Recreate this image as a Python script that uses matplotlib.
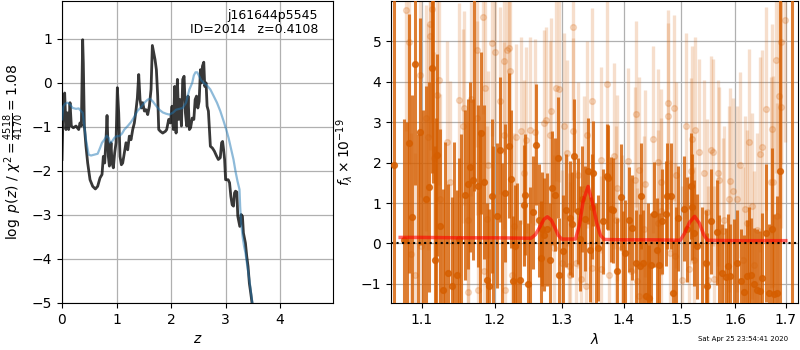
import matplotlib
matplotlib.use("Agg")
import matplotlib.pyplot as plt
from matplotlib.ticker import FixedLocator, FixedFormatter, NullLocator

# ---------------- left panel: log p(z) ----------------
pz_z = [0.000, 0.024, 0.049, 0.073, 0.098, 0.122, 0.147, 0.171, 0.208, 0.257, 0.306, 0.330,
        0.355, 0.379, 0.391, 0.410, 0.440, 0.471, 0.514, 0.563, 0.612, 0.654, 0.697, 0.734,
        0.758, 0.783, 0.807, 0.826, 0.850, 0.869, 0.899, 0.917, 0.942, 0.966, 0.991, 1.015,
        1.040, 1.064, 1.089, 1.113, 1.144, 1.174, 1.205, 1.235, 1.266, 1.297, 1.327, 1.358,
        1.382, 1.407, 1.431, 1.456, 1.480, 1.511, 1.541, 1.572, 1.602, 1.633, 1.657, 1.682,
        1.706, 1.731, 1.755, 1.774, 1.804, 1.847, 1.896, 1.920, 1.957, 1.988, 2.018, 2.043,
        2.067, 2.092, 2.116, 2.141, 2.165, 2.190, 2.214, 2.239, 2.263, 2.287, 2.312, 2.336,
        2.358, 2.388, 2.418, 2.442, 2.467, 2.491, 2.515, 2.539, 2.558, 2.576, 2.600, 2.618,
        2.642, 2.661, 2.685, 2.703, 2.721, 2.758, 2.794, 2.830, 2.867, 2.903, 2.927, 2.945,
        2.964, 2.982, 3.000, 3.024, 3.048, 3.073, 3.097, 3.121, 3.145, 3.164, 3.182, 3.206,
        3.224, 3.242, 3.261, 3.285, 3.309, 3.327, 3.345, 3.364, 3.388, 3.412, 3.436, 3.461,
        3.485, 3.550]
pz_logp = [-1.74, -0.45, -0.23, -1.06, -0.68, -1.06, -0.45, -0.98, -1.02, -0.98, -1.06, -0.91,
           -0.98, 0.98, 0.45, -0.98, -1.44, -1.82, -2.20, -2.35, -2.41, -2.35, -2.16, -2.08,
           -1.67, -1.82, -1.29, -0.74, -1.67, -1.89, -1.36, -1.82, -1.93, -1.59, -1.36, -0.11,
           -0.68, -1.67, -1.86, -1.82, -1.59, -1.36, -1.52, -1.21, -1.29, -1.06, -0.91, -0.61,
           -0.34, 0.19, -0.38, -0.57, -0.45, -0.64, -0.61, -0.72, -0.53, -0.15, 0.85, 0.68,
           0.53, 0.30, -0.30, -1.06, -1.10, -1.14, -1.10, -1.06, -0.83, -0.91, -0.53, -1.06,
           -0.08, -1.14, 0.08, -0.83, -0.38, -0.98, 0.08, 0.15, -0.68, -0.98, -0.30, -1.06,
           -1.02, -0.80, -0.83, -0.38, -0.30, -0.57, -0.42, 0.30, 0.00, 0.38, 0.47, -0.08,
           0.00, -0.53, -0.64, -1.06, -1.44, -1.48, -1.55, -1.65, -1.74, -1.70, -1.36, -1.33,
           -1.52, -1.74, -2.20, -2.20, -2.20, -2.27, -2.58, -2.77, -2.80, -2.50, -2.46, -2.48,
           -3.03, -3.14, -3.26, -2.99, -3.03, -3.41, -3.52, -3.64, -3.94, -4.17, -4.55, -4.77,
           -5.00, -5.60]

prior_z = [0.000, 0.024, 0.061, 0.104, 0.147, 0.196, 0.257, 0.306, 0.349, 0.379, 0.410, 0.440,
           0.489, 0.532, 0.593, 0.654, 0.697, 0.734, 0.777, 0.820, 0.856, 0.881, 0.917, 0.960,
           1.003, 1.052, 1.101, 1.144, 1.205, 1.266, 1.327, 1.382, 1.450, 1.511, 1.572, 1.615,
           1.664, 1.725, 1.786, 1.847, 1.908, 1.969, 2.031, 2.092, 2.153, 2.214, 2.275, 2.336,
           2.388, 2.418, 2.448, 2.479, 2.509, 2.552, 2.600, 2.661, 2.721, 2.782, 2.842, 2.903,
           2.964, 3.012, 3.055, 3.097, 3.145, 3.182, 3.218, 3.255, 3.267, 3.285, 3.315, 3.339,
           3.364, 3.400, 3.436, 3.479, 3.509]
prior_logp = [-0.83, -0.53, -0.47, -0.45, -0.49, -0.57, -0.59, -0.58, -0.64, -0.68, -0.98, -1.29,
              -1.63, -1.65, -1.63, -1.61, -1.48, -1.36, -1.29, -1.20, -1.25, -1.36, -1.33, -1.25,
              -1.21, -1.21, -1.15, -1.06, -0.98, -0.89, -0.77, -0.64, -0.55, -0.45, -0.38, -0.36,
              -0.42, -0.52, -0.61, -0.67, -0.70, -0.72, -0.68, -0.61, -0.59, -0.57, -0.45, -0.15,
              0.00, 0.17, 0.24, 0.24, 0.17, 0.06, 0.00, -0.06, -0.15, -0.30, -0.45, -0.64,
              -0.87, -1.06, -1.25, -1.48, -1.74, -2.01, -2.23, -2.42, -2.80, -3.18, -3.52, -3.71,
              -3.86, -4.17, -4.47, -4.89, -5.15]

# ---------------- right panel: spectrum ----------------
dark_wave = [1.0635, 1.0768, 1.0837, 1.0872, 1.0915, 1.0975, 1.1047, 1.1088, 1.1129, 1.1171,
             1.1204, 1.1239, 1.1277, 1.1350, 1.1396, 1.1473, 1.1497, 1.1579, 1.1625, 1.1652,
             1.1689, 1.1762, 1.1809, 1.1845, 1.1891, 1.1919, 1.1955, 1.2040, 1.2070, 1.2156,
             1.2205, 1.2241, 1.2271, 1.2290, 1.2370, 1.2421, 1.2445, 1.2490, 1.2564, 1.2609,
             1.2654, 1.2680, 1.2705, 1.2729, 1.2780, 1.2819, 1.2855, 1.2894, 1.2945, 1.2954,
             1.3021, 1.3074, 1.3128, 1.3166, 1.3192, 1.3257, 1.3289, 1.3328, 1.3365, 1.3419,
             1.3451, 1.3474, 1.3506, 1.3582, 1.3653, 1.3723, 1.3744, 1.3787, 1.3831, 1.3896,
             1.3950, 1.4030, 1.4087, 1.4146, 1.4203, 1.4278, 1.4290, 1.4337, 1.4377, 1.4434,
             1.4476, 1.4521, 1.4568, 1.4608, 1.4666, 1.4724, 1.4753, 1.4811, 1.4858, 1.4937,
             1.5045, 1.5108, 1.5169, 1.5200, 1.5230, 1.5293, 1.5447, 1.5479, 1.5553, 1.5651,
             1.5757, 1.5818, 1.5861, 1.5911, 1.6038, 1.6117, 1.6168, 1.6235, 1.6300, 1.6366,
             1.6433, 1.6484, 1.6532, 1.6597, 1.6662, 1.6729, 1.6761, 1.6828, 1.6880, 1.7129,
             1.0800, 1.0950, 1.1010, 1.1150, 1.1190, 1.1310, 1.1430, 1.1530, 1.1710, 1.1790,
             1.1970, 1.2100, 1.2330, 1.2520, 1.3550, 1.3990, 1.4420, 1.4900, 1.5380, 1.5700,
             1.5980, 1.6270]
dark_flux = [1.95, 0.08, 2.47, 0.66, 4.44, 2.76, 1.09, 1.40, 4.34, -0.40,
             2.19, 0.43, -1.16, -0.74, -1.04, -0.79, 0.12, 1.20, 1.48, 1.88,
             1.58, 1.41, 2.72, 1.51, -0.91, -1.05, 1.17, 0.69, 2.32, 1.25,
             2.42, 1.60, -0.93, -0.05, -0.91, 0.94, 1.21, -0.99, 0.77, 2.44,
             0.57, -0.35, 0.36, 0.22, 0.35, -0.40, 1.37, 1.21, 2.12, -0.77,
             -0.19, 0.82, 0.63, 0.47, 2.17, 0.80, 0.12, 1.10, 0.61, 1.79,
             -0.15, 0.91, 1.73, -0.11, 0.55, 1.66, 1.63, 0.84, 0.82, -0.68,
             1.15, -0.23, 0.59, 0.39, -0.48, -0.56, 1.17, -0.48, -1.30, -1.34,
             -0.54, 0.72, -0.17, -0.54, 0.55, 0.74, 1.17, 1.17, -1.22, 0.62,
             0.86, 0.35, 1.42, 0.90, 0.26, -0.07, -0.48, -1.05, 0.55, 0.28,
             -0.72, -0.82, -0.56, -0.81, -0.48, -0.93, -1.20, -0.81, -0.77, -1.01,
             -1.14, -1.18, -0.85, 0.26, -1.22, 0.35, -1.26, -1.22, 1.79, 8.00,
             -2.00, -1.80, -2.20, 6.50, -1.90, -2.00, -1.70, -2.10, 6.80, -1.80,
             -1.60, -1.80, -1.70, -1.60, -1.60, -1.70, -1.60, -1.70, -1.60, -1.70,
             -1.80, -1.70]
dark_err = [30.0, 3.0, 3.2, 3.0, 3.0, 2.8, 2.8, 2.6, 2.6, 2.8,
            2.5, 2.4, 2.5, 2.2, 2.2, 2.1, 2.0, 2.1, 2.1, 2.1,
            2.0, 2.0, 2.0, 1.9, 1.9, 1.9, 1.9, 1.8, 1.8, 1.7,
            1.8, 1.7, 1.6, 1.5, 1.5, 1.5, 1.5, 1.5, 1.4, 1.5,
            1.4, 1.4, 1.4, 1.4, 1.4, 1.4, 1.4, 1.4, 1.5, 1.4,
            1.4, 1.4, 1.4, 1.3, 1.4, 1.3, 1.3, 1.3, 1.3, 1.3,
            1.3, 1.3, 1.3, 1.3, 1.3, 1.3, 1.3, 1.3, 1.3, 1.3,
            1.3, 1.3, 1.3, 1.3, 1.3, 1.3, 1.3, 1.3, 1.3, 1.3,
            1.3, 1.3, 1.3, 1.3, 1.3, 1.3, 1.3, 1.3, 1.3, 1.3,
            1.3, 1.3, 1.3, 1.3, 1.3, 1.3, 1.3, 1.3, 1.3, 1.3,
            1.2, 1.2, 1.3, 1.3, 1.3, 1.3, 1.4, 1.4, 1.4, 1.4,
            1.5, 1.5, 1.6, 1.7, 1.7, 2.0, 2.0, 2.4, 4.5, 30.0,
            5.0, 4.5, 5.5, 5.0, 5.0, 4.5, 4.2, 4.8, 5.5, 4.6,
            4.0, 3.8, 3.2, 3.0, 2.6, 2.5, 2.6, 2.6, 2.5, 2.4,
            2.4, 2.6]

light_wave = [1.0798, 1.0829, 1.0863, 1.0915, 1.0972, 1.0992, 1.1047, 1.1074, 1.1102, 1.1111,
              1.1131, 1.1153, 1.1198, 1.1222, 1.1245, 1.1336, 1.1373, 1.1497, 1.1552, 1.1570,
              1.1617, 1.1621, 1.1671, 1.1748, 1.1754, 1.1762, 1.1827, 1.1841, 1.1864, 1.1886,
              1.1909, 1.1968, 1.2006, 1.2081, 1.2130, 1.2132, 1.2156, 1.2171, 1.2205, 1.2220,
              1.2256, 1.2280, 1.2305, 1.2391, 1.2430, 1.2455, 1.2520, 1.2590, 1.2729, 1.2754,
              1.2819, 1.2829, 1.2879, 1.2919, 1.2954, 1.3005, 1.3042, 1.3085, 1.3111, 1.3139,
              1.3175, 1.3181, 1.3219, 1.3257, 1.3300, 1.3354, 1.3381, 1.3407, 1.3474, 1.3487,
              1.3627, 1.3630, 1.3723, 1.3761, 1.3842, 1.3869, 1.3896, 1.3974, 1.4069, 1.4118,
              1.4186, 1.4219, 1.4233, 1.4260, 1.4262, 1.4347, 1.4360, 1.4494, 1.4581, 1.4585,
              1.4638, 1.4640, 1.4765, 1.4770, 1.4799, 1.4869, 1.4881, 1.4899, 1.5015, 1.5095,
              1.5137, 1.5169, 1.5200, 1.5230, 1.5243, 1.5322, 1.5416, 1.5479, 1.5481, 1.5553,
              1.5590, 1.5603, 1.5675, 1.5694, 1.5763, 1.5787, 1.5876, 1.5894, 1.5968, 1.6038,
              1.6089, 1.6156, 1.6182, 1.6235, 1.6263, 1.6334, 1.6366, 1.6433, 1.6480, 1.6528,
              1.6603, 1.6696, 1.6729, 1.6749, 1.6794, 1.6815, 1.6859, 1.6893, 1.6895, 1.6978]
light_flux = [5.78, 4.97, -0.27, -0.77, 4.15, -0.07, 3.10, 2.63, 5.12, 5.43,
              5.79, 2.12, 3.68, 4.05, 1.09, 2.50, 1.51, 3.54, 2.91, 3.35,
              0.59, -1.20, 3.57, 4.79, 3.10, -1.14, 5.60, -0.68, 3.84, 0.61,
              1.95, 4.96, 4.73, 3.53, 4.50, 2.67, -1.14, 4.77, 4.83, 4.27,
              -0.77, 0.43, 2.63, 2.79, 1.75, 2.55, 2.81, 2.76, 2.98, 3.04,
              2.69, 3.28, -0.11, 3.84, 3.82, -0.48, 2.90, 2.24, -0.56, -0.77,
              5.35, 2.77, -0.48, 1.70, -0.87, 1.35, -1.05, 2.69, -0.60, 3.51,
              2.07, -0.63, 3.93, -0.79, 2.16, 0.59, 1.37, -0.11, 2.03, -0.68,
              1.56, 3.19, -0.93, 1.81, -1.30, 0.35, 1.48, 2.57, 2.02, 0.51,
              1.51, 0.81, 3.46, 3.14, -0.23, 3.35, -0.31, 1.70, -0.89, 2.91,
              -0.64, 1.79, 2.59, -0.40, 2.80, 2.25, 1.73, 0.77, -0.89, 2.32,
              2.25, -0.87, 1.75, 1.56, 0.30, 0.59, 1.10, 1.54, 1.29, 1.09,
              1.93, -0.41, 0.86, 0.51, 2.51, 0.92, -0.52, 0.33, 2.20, 2.38,
              3.33, 1.51, 2.83, 1.53, 4.54, 0.67, 3.64, 4.97, 3.38, 5.51]
light_err = [3.0, 3.0, 3.0, 3.0, 3.0, 2.8, 2.8, 2.8, 2.8, 2.8,
             2.8, 2.6, 2.6, 2.6, 2.6, 2.5, 2.5, 2.4, 2.4, 2.4,
             2.4, 2.4, 2.4, 2.4, 2.4, 2.4, 2.4, 2.3, 2.3, 2.3,
             2.3, 2.3, 2.3, 2.3, 2.3, 2.3, 2.3, 2.3, 2.3, 2.3,
             2.3, 2.3, 2.3, 2.3, 2.3, 2.3, 2.3, 2.3, 2.3, 2.3,
             2.3, 2.3, 2.3, 2.3, 2.3, 2.3, 2.3, 2.3, 2.3, 2.3,
             2.3, 2.3, 2.3, 2.3, 2.3, 2.3, 2.3, 2.3, 2.3, 2.3,
             2.3, 2.3, 2.3, 2.3, 2.3, 2.3, 2.3, 2.3, 2.3, 2.3,
             2.3, 2.3, 2.3, 2.3, 2.3, 2.3, 2.3, 2.3, 2.3, 2.3,
             2.3, 2.3, 2.3, 2.3, 2.3, 2.3, 2.3, 2.3, 2.3, 2.3,
             2.3, 2.3, 2.3, 2.3, 2.3, 2.3, 2.3, 2.3, 2.3, 2.3,
             2.3, 2.3, 2.3, 2.3, 2.3, 2.3, 2.3, 2.3, 2.3, 2.3,
             2.3, 2.3, 2.3, 2.3, 2.3, 2.3, 2.3, 2.4, 2.4, 2.4,
             2.5, 2.6, 2.6, 2.6, 2.8, 2.8, 3.0, 3.0, 3.0, 3.0]

model_wave = [1.0717, 1.10, 1.15, 1.20, 1.2535, 1.2600, 1.2670, 1.2730, 1.2780, 1.2840,
              1.2900, 1.2950, 1.3000, 1.3219, 1.3280, 1.3340, 1.3419, 1.3490, 1.3560, 1.3620,
              1.3680, 1.40, 1.45, 1.4985, 1.5060, 1.5150, 1.5243, 1.5330, 1.5410, 1.5480,
              1.60, 1.65, 1.70]
model_flux = [0.15, 0.15, 0.14, 0.14, 0.13, 0.22, 0.42, 0.60, 0.66, 0.58,
              0.38, 0.20, 0.11, 0.11, 0.45, 1.05, 1.41, 1.00, 0.50, 0.20,
              0.10, 0.09, 0.09, 0.08, 0.25, 0.52, 0.67, 0.50, 0.22, 0.08,
              0.07, 0.07, 0.07]

wave_ticks = [1.1, 1.2, 1.3, 1.4, 1.5, 1.6, 1.7]
wave_tick_labels = ['1.1', '1.2', '1.3', '1.4', '1.5', '1.6', '1.7']

G141_COLOR = (0.8352941176470589, 0.3686274509803922, 0.0)

fig = plt.figure(figsize=(8, 3.5), dpi=100)

# left axes
ax1 = fig.add_axes([62/800, 47/350, 271/800, 302/350])
ax1.plot(pz_z, pz_logp, color='k', alpha=0.78, lw=2, zorder=3)
ax1.plot(prior_z, prior_logp, color='#1f77b4', alpha=0.5, lw=1.6, zorder=4)
ax1.set_xlim(0, 4.97)
ax1.set_ylim(-5, 1.86)
ax1.set_xticks([0, 1, 2, 3, 4])
ax1.set_yticks([-5, -4, -3, -2, -1, 0, 1])
ax1.grid(True, color='#b0b0b0', lw=0.9)
ax1.set_xlabel(r'$z$')
ax1.set_ylabel(r'$\log\ p(z)$' + ' / ' + r'$\chi^2=\frac{4518}{4170}=1.08$')
ax1.text(0.945, 0.975, 'j161644p5545\nID=2014   z=0.4108', transform=ax1.transAxes,
         ha='right', va='top', fontsize=9, linespacing=1.1)

# right axes
ax2 = fig.add_axes([391/800, 47/350, 407/800, 302/350])
ax2.errorbar(light_wave, light_flux, yerr=light_err, fmt='o', color=G141_COLOR, alpha=0.2,
             ms=4.2, lw=2.4, capsize=0, zorder=2)
ax2.errorbar(dark_wave, dark_flux, yerr=dark_err, fmt='o', color=G141_COLOR, alpha=0.8,
             ms=4.2, lw=2.2, capsize=0, zorder=3)
ax2.plot(model_wave, model_flux, color='r', alpha=0.6, lw=2.5, zorder=5)
ax2.axhline(0, color='k', ls=':', lw=1.5, zorder=10)
ax2.set_xscale('log')
ax2.set_xlim(1.06, 1.725)
ax2.set_ylim(-1.47, 5.99)
ax2.xaxis.set_major_locator(FixedLocator(wave_ticks))
ax2.xaxis.set_major_formatter(FixedFormatter(wave_tick_labels))
ax2.xaxis.set_minor_locator(NullLocator())
ax2.set_yticks([-1, 0, 1, 2, 3, 4, 5])
ax2.grid(True, color='#b0b0b0', lw=0.9)
ax2.set_xlabel(r'$\lambda$')
ax2.set_ylabel(r'$f_\lambda\times10^{-19}$')

fig.text(0.985, 0.022, 'Sat Apr 25 23:54:41 2020', ha='right', va='bottom', fontsize=5)

fig.savefig('out.png', dpi=100)
